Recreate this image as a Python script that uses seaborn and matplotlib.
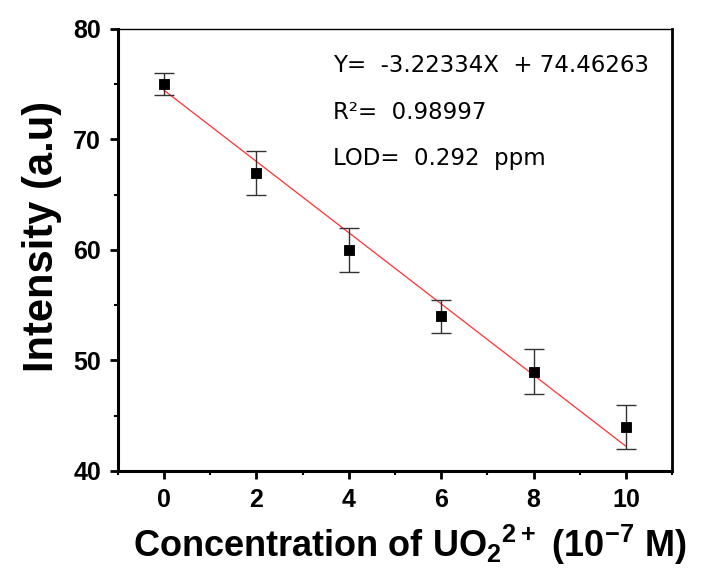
import matplotlib
matplotlib.use("Agg")
import matplotlib.pyplot as plt
import seaborn as sns
import numpy as np
import pandas as pd

conc = [0, 2, 4, 6, 8, 10]
intensity = [75.0, 67.0, 60.0, 54.0, 49.0, 44.0]
err = [1.0, 2.0, 2.0, 1.5, 2.0, 2.0]
slope = -3.22334
intercept = 74.46263
fit_x = [0, 10]
x_ticks = [0, 2, 4, 6, 8, 10]
y_ticks = [40, 50, 60, 70, 80]

sns.set_style("ticks", {"text.color": "black", "axes.labelcolor": "black",
                        "xtick.color": "black", "ytick.color": "black",
                        "axes.edgecolor": "black"})
plt.rcParams['font.family'] = ['Liberation Sans', 'DejaVu Sans']
plt.rcParams['mathtext.fontset'] = 'custom'
plt.rcParams['mathtext.bf'] = 'Liberation Sans:bold'
plt.rcParams['mathtext.rm'] = 'Liberation Sans:bold'
plt.rcParams['mathtext.default'] = 'bf'

fig = plt.figure(figsize=(7.01, 5.80), dpi=100)
ax = fig.add_axes([0.168, 0.188, 0.791, 0.762])

df = pd.DataFrame({"x": conc, "y": intensity})
fit_df = pd.DataFrame({"x": fit_x, "y": [slope * v + intercept for v in fit_x]})

sns.lineplot(data=fit_df, x="x", y="y", ax=ax, color="#ff3030", lw=0.9, zorder=2)
ax.errorbar(conc, intensity, yerr=err, fmt="none", ecolor="#333333", elinewidth=1.0,
            capsize=7, capthick=1.0, zorder=3)
sns.scatterplot(data=df, x="x", y="y", ax=ax, marker="s", s=60, color="black",
                edgecolor="black", zorder=4)

ax.set_xlim(-1, 11)
ax.set_ylim(40, 80)
ax.set_xticks(x_ticks)
ax.set_yticks(y_ticks)
ax.set_xticks([-1, 1, 3, 5, 7, 9, 11], minor=True)
ax.set_yticks([45, 55, 65, 75], minor=True)
ax.tick_params(which="major", direction="out", length=6, width=2, labelsize=18, pad=6,
               colors="black")
ax.tick_params(which="minor", direction="out", length=3, width=1.5, colors="black")
for lab in ax.get_xticklabels() + ax.get_yticklabels():
    lab.set_fontweight("bold")

for s in ["left", "bottom"]:
    ax.spines[s].set_linewidth(2.2)
ax.spines["right"].set_linewidth(2.0)
ax.spines["top"].set_linewidth(1.0)
for s in ax.spines.values():
    s.set_visible(True)
    s.set_color("black")

ax.set_xlabel(r"Concentration of UO$_{2}$$^{2+}$ (10$^{-7}$ M)", fontsize=26,
              fontweight="bold", labelpad=8, x=0.527, color="black")
ax.set_ylabel("Intensity (a.u)", fontsize=30, fontweight="bold", labelpad=8, y=0.53,
              color="black")

tfont = dict(fontsize=16.5, family=["DejaVu Sans"], color="black", va="center", ha="left")
ax.text(0.388, 0.918, "Y=  -3.22334X  + 74.46263", transform=ax.transAxes, **tfont)
ax.text(0.388, 0.810, "R²=  0.98997", transform=ax.transAxes, **tfont)
ax.text(0.388, 0.706, "LOD=  0.292  ppm", transform=ax.transAxes, **tfont)

fig.savefig("out.png", dpi=100)
